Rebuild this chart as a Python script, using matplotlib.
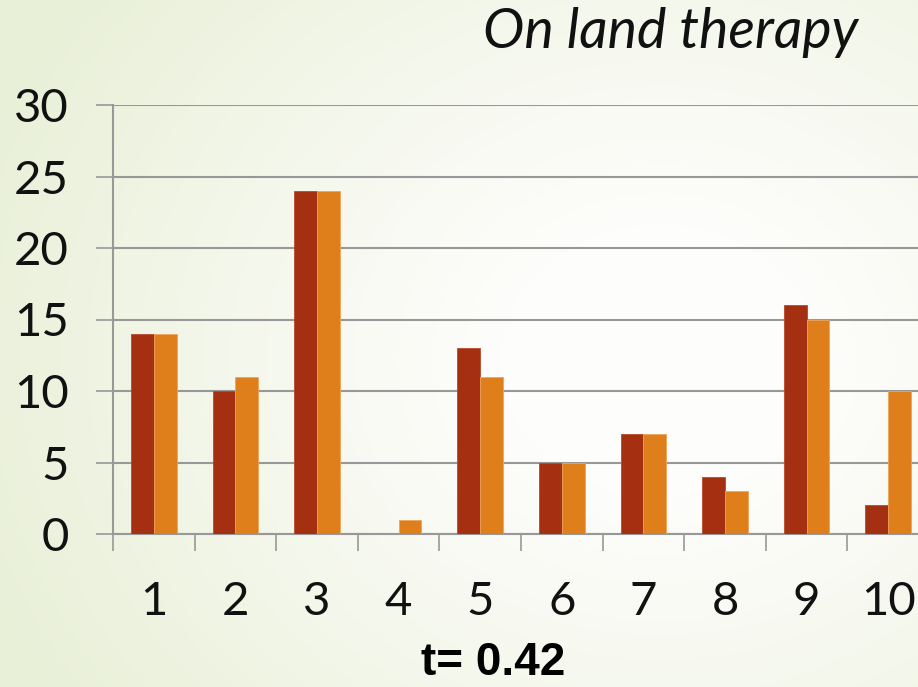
import matplotlib
matplotlib.use("Agg")
import matplotlib.pyplot as plt
import numpy as np

# ── Data ──
categories = ["1", "2", "3", "4", "5", "6", "7", "8", "9", "10"]
series_a = [14, 10, 24, 0, 13, 5, 7, 4, 16, 2]
series_b = [14, 11, 24, 1, 11, 5, 7, 3, 15, 10]
y_ticks = [0, 5, 10, 15, 20, 25, 30]

RED = "#A52F11"
ORANGE = "#DE7F1B"
GRID = "#989898"
W, H = 918, 687

fig = plt.figure(figsize=(W / 100, H / 100), dpi=100)

# soft greenish-to-white slide background
bg = fig.add_axes([0, 0, 1, 1], zorder=-10)
yy, xx = np.mgrid[0:H, 0:W]
d = np.hypot((xx - 660) / 1.0, (yy - 360) / 0.85)
t = np.clip((d - 160) / 560, 0, 1) ** 1.1
white = np.array([253, 253, 251]) / 255
green = np.array([233, 240, 216]) / 255
img = white[None, None, :] * (1 - t[..., None]) + green[None, None, :] * t[..., None]
bg.imshow(img, aspect="auto", extent=[0, 1, 0, 1])
bg.axis("off")

ax = fig.add_axes([113 / W, 153 / H, 816 / W, 429 / H])
ax.patch.set_alpha(0)

x = np.arange(len(categories)) + 0.5
bw = 0.28
ax.bar(x - bw / 2, series_a, bw, color=RED, edgecolor="#B8492C", linewidth=0.6, zorder=3)
ax.bar(x + bw / 2, series_b, bw, color=ORANGE, edgecolor="#EFA458", linewidth=0.6, zorder=3)

ax.set_xlim(0, len(categories))
ax.set_ylim(0, 30)

ax.set_yticks(y_ticks)
ax.set_yticklabels([str(v) for v in y_ticks])
ax.yaxis.grid(True, color=GRID, linewidth=1.5, zorder=0)
ax.tick_params(axis="y", length=12, width=1.2, color=GRID, pad=20,
               labelsize=34, direction="out")

ax.set_xticks(np.arange(len(categories) + 1))
ax.set_xticklabels([])
ax.set_xticks(x, minor=True)
ax.set_xticklabels(categories, minor=True)
ax.tick_params(axis="x", which="major", length=12, width=1.2, color=GRID, direction="out")
ax.tick_params(axis="x", which="minor", length=0, pad=34, labelsize=34)

for lbl in ax.get_xticklabels(minor=True) + ax.get_yticklabels():
    lbl.set_fontfamily("Lato")
    lbl.set_color("#111111")

for s in ["top", "right"]:
    ax.spines[s].set_visible(False)
for s in ["left", "bottom"]:
    ax.spines[s].set_color(GRID)
    ax.spines[s].set_linewidth(1.5)

fig.text(671 / W, 1 - 33 / H, "On land therapy", fontsize=40, style="italic",
         fontfamily="Lato", color="#111111", ha="center", va="center")
fig.text(493 / W, 1 - 663 / H, "t= 0.42", fontsize=33, fontweight="bold",
         fontfamily="Liberation Sans", ha="center", va="center")

fig.savefig("out.png", dpi=100)
